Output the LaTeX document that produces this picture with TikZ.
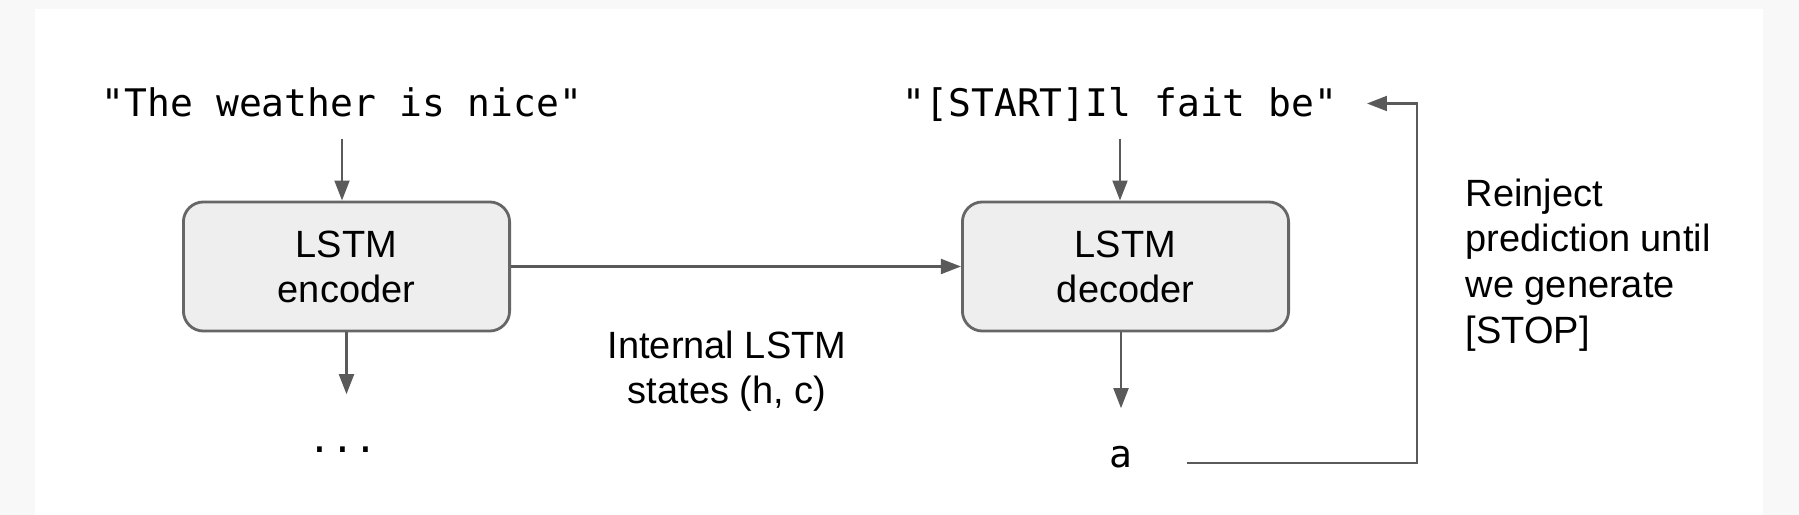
\documentclass[tikz,border=0pt]{standalone}
\usepackage{fontspec}
\setsansfont{Liberation Sans}
\setmonofont{DejaVu Sans Mono}
\usepackage{tikz}
\usetikzlibrary{positioning,arrows.meta}
\definecolor{paper}{HTML}{F8F8F8}
\definecolor{boxfill}{HTML}{EEEEEE}
\definecolor{boxline}{HTML}{666666}
\definecolor{wire}{HTML}{5A5A5A}
\tikzset{
  lstm/.style    ={rounded corners=2mm, draw=boxline, fill=boxfill, line width=0.8pt,
                   minimum width=32.6mm, minimum height=12.9mm, inner sep=0pt, align=center,
                   font=\sffamily\fontsize{10.8}{12.8}\selectfont},
  seq/.style     ={font=\ttfamily\fontsize{10.8}{13}\selectfont, inner sep=0pt,
                   text height=2.7mm, text depth=0pt, anchor=base},
  note/.style    ={font=\sffamily\fontsize{10.8}{13}\selectfont, inner sep=0pt},
  flowarr/.style ={-{Triangle[length=5.7pt,width=4.2pt]}, draw=wire, line width=0.75pt},
}
\begin{document}
\begin{tikzpicture}[x=0.01cm, y=0.01cm]
\useasboundingbox (0,0) rectangle (1799,515);
\fill[paper] (0,0) rectangle (1799,515);
\fill[white] (35,0) rectangle (1763,506);
% the two LSTM blocks
\node[lstm] (enc) at (346.5,248.5) {LSTM\\encoder};
\node[lstm] (dec) at (1125.5,248.5) {LSTM\\decoder};
% sequences in and out
\node[seq] (encin) at (342,398) {"The weather is nice"};
\node[seq] (decin) at (1120,398) {"[START]Il fait be"};
\node[seq] (dots) at (343,62) {...};
\node[seq] (pred) at (1121,47) {a};
\draw[flowarr, shorten <=2.1mm] (encin.south) -- (encin.south |- enc.north);
\draw[flowarr, shorten <=2.1mm] (decin.south) -- (decin.south |- dec.north);
\draw[flowarr, shorten >=3.1mm] (enc.south) -- (enc.south |- dots.north);
\draw[flowarr, shorten >=3.2mm] (pred.north |- dec.south) -- (pred.north);
% states passed across
\draw[flowarr] (enc.east) -- (dec.west);
\node[note, anchor=north, align=center] (states) at (727,185) {Internal LSTM\\states (h, c)};
% feed the prediction back
\coordinate (loop) at (1187,52);
\coordinate (back) at (1417,52);
\draw[flowarr, shorten >=2.9mm] (loop) -- (back) |- (decin.east);
\node[note, anchor=north west, align=left] (reinject) at (1465,337) {Reinject\\prediction until\\we generate\\{[STOP]}};
\end{tikzpicture}
\end{document}
